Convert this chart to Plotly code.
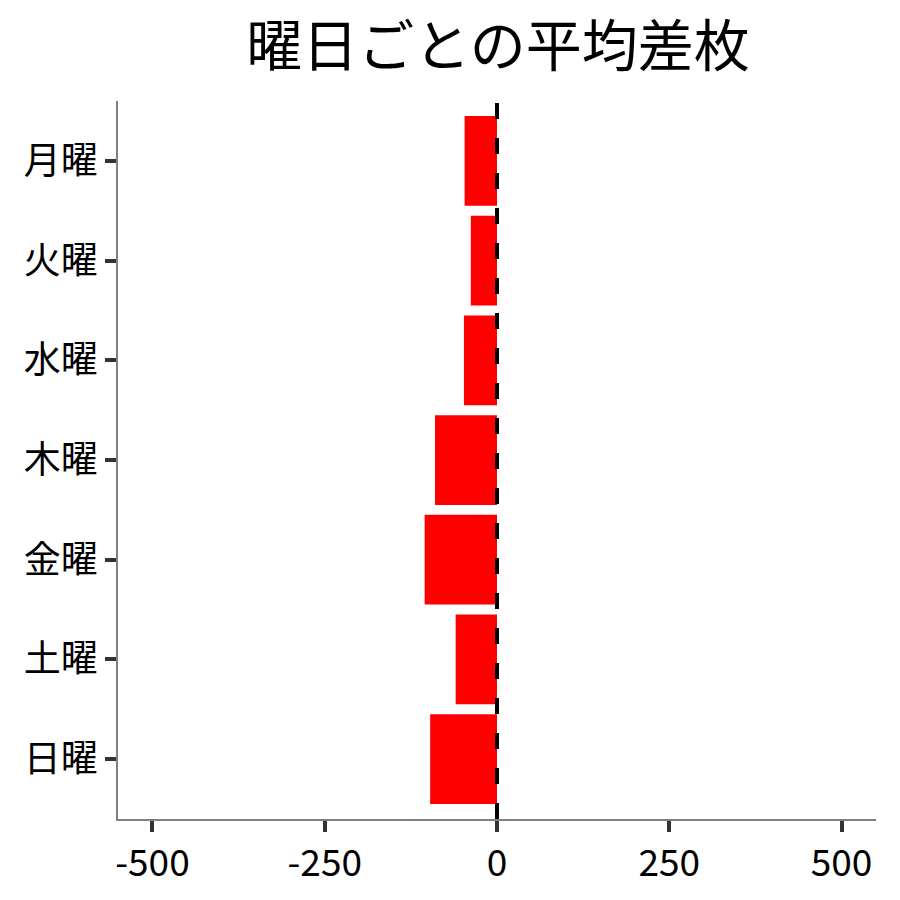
import plotly.graph_objects as go

days = ["月曜", "火曜", "水曜", "木曜", "金曜", "土曜", "日曜"]
avg_diff = [-47, -38, -48, -90, -105, -60, -97]
x_ticks = [-500, -250, 0, 250, 500]

font_family = "Noto Sans CJK JP"

fig = go.Figure()
fig.add_trace(go.Bar(
    x=avg_diff,
    y=days,
    orientation='h',
    marker=dict(color='#FF0000', line=dict(width=0)),
    width=0.9,
    showlegend=False
))

# 0 の位置に破線
fig.add_shape(
    type='line', xref='x', yref='paper',
    x0=0, x1=0, y0=0, y1=1,
    line=dict(color='black', width=4, dash='16px,19px'),
    layer='above'
)

# ページの body 余白 (8px) の分だけ余白をずらす
fig.update_layout(
    width=900,
    height=900,
    margin=dict(l=110, r=32, t=93, b=89),
    paper_bgcolor='white',
    plot_bgcolor='white',
    font=dict(family=font_family, size=37, color='black'),
    title=dict(
        text='曜日ごとの平均差枚',
        x=490 / 900, xanchor='center',
        y=1 - 38 / 900, yanchor='middle',
        font=dict(family=font_family, size=56, color='black')
    ),
    xaxis=dict(
        range=[-550, 550],
        tickvals=x_ticks,
        ticktext=[str(v) for v in x_ticks],
        showgrid=False,
        zeroline=False,
        showline=True,
        linecolor='#808080',
        linewidth=1.8,
        ticks='outside',
        ticklen=11,
        tickwidth=4,
        tickcolor='#333333',
        tickfont=dict(size=37, color='black')
    ),
    yaxis=dict(
        type='category',
        categoryorder='array',
        categoryarray=days,
        range=[6.6, -0.6],
        showgrid=False,
        zeroline=False,
        showline=True,
        linecolor='#808080',
        linewidth=1.8,
        ticks='outside',
        ticklen=11,
        tickwidth=4,
        tickcolor='#333333',
        tickfont=dict(size=37, color='black')
    ),
    bargap=0.1
)

fig.write_html("out.html")
